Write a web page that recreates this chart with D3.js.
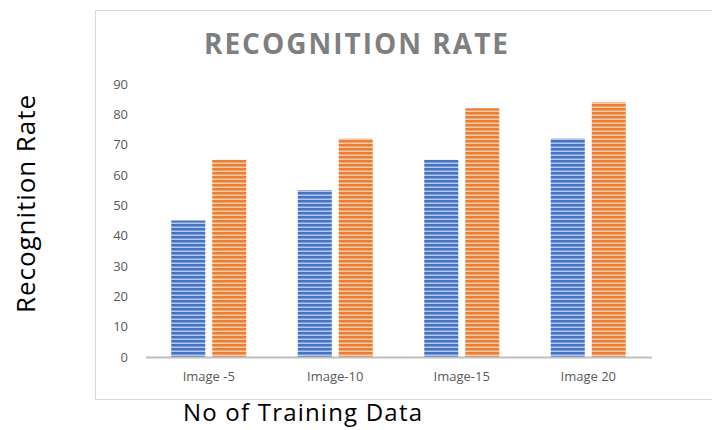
<!DOCTYPE html>
<html>
<head>
<meta charset="utf-8">
<script src="https://cdn.jsdelivr.net/npm/d3@7"></script>
<style>
  body { margin: 0; background: #fff; }
  svg { display: block; }
</style>
</head>
<body>
<div id="chart"></div>
<script>
const categories = ['Image -5', 'Image-10', 'Image-15', 'Image 20'];
const seriesNames = ['Series1', 'Series2'];
const series1 = [45, 55, 65, 72];
const series2 = [65, 72, 82, 84];
const yTicks = [0, 10, 20, 30, 40, 50, 60, 70, 80, 90];

const width = 712, height = 430;
const colors = { Series1: '#4472c4', Series2: '#ed7d31' };

const svg = d3.select('#chart').append('svg')
  .attr('width', width)
  .attr('height', height);

// striped fills
const defs = svg.append('defs');
seriesNames.forEach(name => {
  const p = defs.append('pattern')
    .attr('id', 'stripe-' + name)
    .attr('patternUnits', 'userSpaceOnUse')
    .attr('width', 8).attr('height', 4);
  p.append('rect').attr('width', 8).attr('height', 4).attr('fill', colors[name]);
  p.append('rect').attr('y', 2.5).attr('width', 8).attr('height', 1.5)
    .attr('fill', '#fff').attr('opacity', 0.6);
});

// chart frame
svg.append('rect')
  .attr('x', 95.5).attr('y', 10.5)
  .attr('width', 640).attr('height', 389)
  .attr('fill', 'none')
  .attr('stroke', '#d9d9d9');

const x = d3.scaleBand()
  .domain(categories)
  .range([145.5, 651.5]);

const xInner = d3.scaleBand()
  .domain(seriesNames)
  .range([(x.bandwidth() - 75) / 2, (x.bandwidth() + 75) / 2])
  .paddingInner(0.17);

const y = d3.scaleLinear()
  .domain([0, 90])
  .range([357, 84]);

// title
svg.append('text')
  .attr('x', 357).attr('y', 54)
  .attr('text-anchor', 'middle')
  .attr('font-family', 'Open Sans, sans-serif')
  .attr('font-weight', 'bold')
  .attr('font-size', 28)
  .attr('letter-spacing', 2)
  .attr('fill', '#7f7f7f')
  .text('RECOGNITION RATE');

// y axis labels
const yAxis = svg.append('g')
  .attr('transform', 'translate(128,0)')
  .call(d3.axisLeft(y).tickValues(yTicks).tickSize(0).tickPadding(0));
yAxis.select('.domain').remove();
yAxis.selectAll('text')
  .attr('font-family', 'Open Sans, sans-serif')
  .attr('font-size', 13)
  .attr('fill', '#595959');

// bars
const groups = svg.append('g').selectAll('g')
  .data(categories)
  .join('g')
  .attr('transform', d => 'translate(' + x(d) + ',0)');

groups.selectAll('rect')
  .data((d, i) => [
    { key: 'Series1', value: series1[i] },
    { key: 'Series2', value: series2[i] }
  ])
  .join('rect')
  .attr('x', d => xInner(d.key))
  .attr('y', d => y(d.value))
  .attr('width', xInner.bandwidth())
  .attr('height', d => y(0) - y(d.value))
  .attr('fill', d => 'url(#stripe-' + d.key + ')');

// x axis
const xAxis = svg.append('g')
  .attr('transform', 'translate(0,' + y(0) + ')')
  .call(d3.axisBottom(x).tickSize(0).tickPadding(15));
xAxis.select('.domain')
  .attr('stroke', '#bfbfbf')
  .attr('stroke-width', 2);
xAxis.selectAll('text')
  .attr('font-family', 'Open Sans, sans-serif')
  .attr('font-size', 13)
  .attr('fill', '#595959');

// axis titles
svg.append('text')
  .attr('transform', 'translate(35,204) rotate(-90)')
  .attr('text-anchor', 'middle')
  .attr('font-family', 'Open Sans, sans-serif')
  .attr('font-size', 26)
  .attr('textLength', 218)
  .attr('lengthAdjust', 'spacing')
  .attr('fill', '#000')
  .text('Recognition Rate');

svg.append('text')
  .attr('x', 183).attr('y', 421)
  .attr('font-family', 'Open Sans, sans-serif')
  .attr('font-size', 24)
  .attr('textLength', 239)
  .attr('lengthAdjust', 'spacing')
  .attr('fill', '#000')
  .text('No of Training Data');
</script>
</body>
</html>
